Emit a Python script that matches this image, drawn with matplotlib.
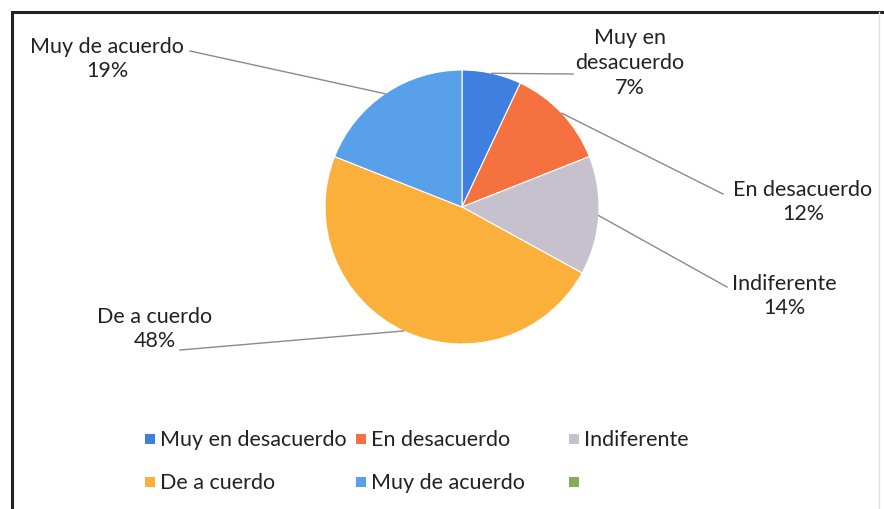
import numpy as np
import matplotlib
matplotlib.use("Agg")
import matplotlib.pyplot as plt
from matplotlib.patches import Rectangle

plt.rcParams['font.family'] = ['Lato', 'DejaVu Sans']

# Survey answers (percent)
categories = ['Muy en desacuerdo', 'En desacuerdo', 'Indiferente', 'De a cuerdo', 'Muy de acuerdo']
values = [7, 12, 14, 48, 19]
colors = ['#3f7fe0', '#f5713f', '#c6c1cd', '#fbb03b', '#58a0ea']
label_text = ['Muy en\ndesacuerdo', 'En desacuerdo', 'Indiferente', 'De a cuerdo', 'Muy de acuerdo']
legend_labels = categories + ['']
legend_colors = colors + ['#7fae5a']

W, H = 884, 510
fig = plt.figure(figsize=(W / 100, H / 100), dpi=100)
ax = fig.add_axes([0, 0, 1, 1])

cx, cy, r = 462, H - 208, 137
wedges, _ = ax.pie(values, colors=colors, startangle=90, counterclock=False,
                   center=(cx, cy), radius=r, frame=True,
                   wedgeprops=dict(edgecolor='white', linewidth=0.8))
ax.set_xlim(0, W)
ax.set_ylim(0, H)
ax.axis('off')

# chart frame
ax.plot([12, 12, W], [0, H - 13, H - 13], color='#222222', lw=2.2, solid_joinstyle='miter')
ax.plot([879, 879], [0, H - 13], color='#e2e2e2', lw=1)

# label positions (x, y from top) and where the leader line ends
text_pos = [(630, 63), (803, 202), (784, 296), (155, 329), (107, 59)]
line_end = [(573, 75), (723, 195), (727, 288), (180, 351), (190, 52)]

for w, txt, v, (tx, ty), (lx, ly) in zip(wedges, label_text, values, text_pos, line_end):
    mid = np.deg2rad((w.theta1 + w.theta2) / 2)
    px, py = cx + r * np.cos(mid), cy + r * np.sin(mid)
    ax.plot([px, lx], [py, H - ly], color='#8a8a8a', lw=1)
    ax.text(tx, H - ty, f"{txt}\n{v}%", ha='center', va='center',
            fontsize=15.5, color='#222222', linespacing=1.3)

# legend, three columns, row by row
leg_x = [150, 361, 574]
leg_y = [440, 483]
for i, (lab, col) in enumerate(zip(legend_labels, legend_colors)):
    x = leg_x[i % 3]
    y = H - leg_y[i // 3]
    ax.add_patch(Rectangle((x - 5, y - 5), 10, 10, color=col, lw=0))
    ax.text(x + 10, y, lab, ha='left', va='center', fontsize=15.5, color='#222222')

fig.savefig('out.png', dpi=100)
